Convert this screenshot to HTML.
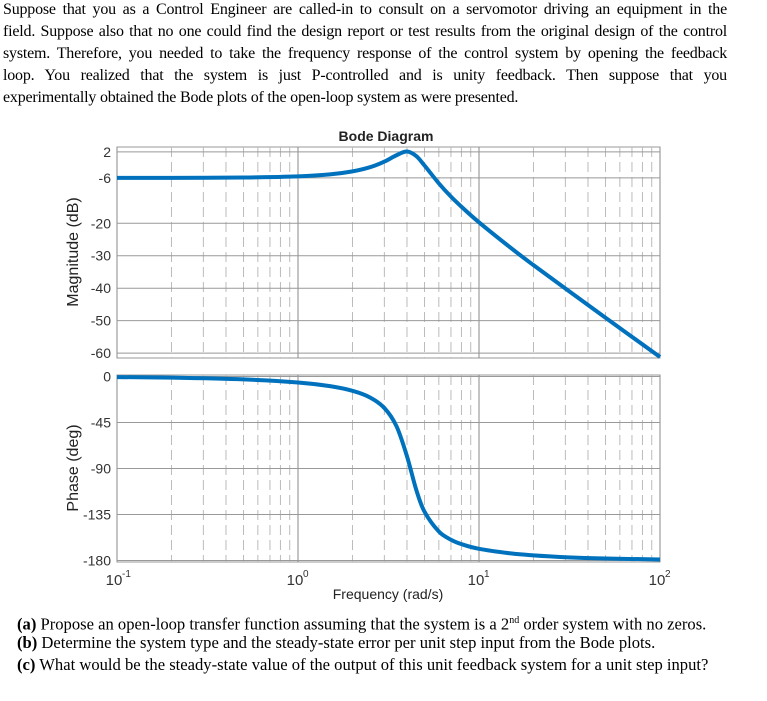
<!DOCTYPE html>
<html><head><meta charset="utf-8">
<style>
body{margin:0;width:767px;height:701px;background:#fff;overflow:hidden;position:relative;font-family:"Liberation Serif",serif;}
.ln{position:absolute;left:3px;width:724px;font-size:16px;line-height:20px;white-space:nowrap;text-align:justify;text-align-last:justify;color:#000;letter-spacing:-0.2px;}
.q{position:absolute;left:17px;font-size:16.6px;line-height:18px;white-space:nowrap;color:#000;}
svg{position:absolute;left:0;top:0;}
</style></head><body>
<div>
<div class="ln" style="top:0px">Suppose that you as a Control Engineer are called-in to consult on a servomotor driving an equipment in the</div>
<div class="ln" style="top:22px">field. Suppose also that no one could find the design report or test results from the original design of the control</div>
<div class="ln" style="top:44px">system. Therefore, you needed to take the frequency response of the control system by opening the feedback</div>
<div class="ln" style="top:66px">loop. You realized that the system is just P-controlled and is unity feedback. Then suppose that you</div>
<div class="ln" style="top:88px;text-align-last:left;width:auto">experimentally obtained the Bode plots of the open-loop system as were presented.</div>
</div>
<svg id="chart" width="767" height="701"></svg>
<div class="q" style="top:612px"><b>(a)</b> Propose an open-loop transfer function assuming that the system is a 2<sup style="font-size:10px">nd</sup> order system with no zeros.</div>
<div class="q" style="top:634px"><b>(b)</b> Determine the system type and the steady-state error per unit step input from the Bode plots.</div>
<div class="q" style="top:656px"><b>(c)</b> What would be the steady-state value of the output of this unit feedback system for a unit step input?</div>
<script>
const freqs=[0.1,0.2,0.5,1,1.5,2,2.5,3,3.5,4,4.5,5,6,7,8,10,15,20,30,50,100];
const magDb=[-6.0,-6.0,-5.9,-5.55,-4.94,-4.0,-2.72,-1.0,0.96,2.1,0.7,-2.2,-7.7,-11.8,-14.9,-19.7,-27.6,-32.9,-40.1,-49.1,-61.2];
const phaseDeg=[-0.55,-1.1,-2.8,-5.8,-9.4,-14,-20.5,-30.8,-48.6,-78,-110.8,-132.3,-151.7,-159.7,-164,-168.6,-173.1,-175,-176.8,-178.1,-179];
const magTicks=[2,-6,-20,-30,-40,-50,-60];
const phaseTicks=[0,-45,-90,-135,-180];
const decades=[-1,0,1,2];

const NS="http://www.w3.org/2000/svg";
const svg=document.getElementById('chart');
const X0=117,X1=660;
const xs=f=>X0+(Math.log10(f)+1)/3*(X1-X0);
const M={top:147,bot:358,vTop:3.5,vBot:-61.5};
const P={top:375,bot:562,vTop:1.5,vBot:-181.5};
const ym=v=>M.top+(M.vTop-v)/(M.vTop-M.vBot)*(M.bot-M.top);
const yp=v=>P.top+(P.vTop-v)/(P.vTop-P.vBot)*(P.bot-P.top);
function el(t,a,p){const e=document.createElementNS(NS,t);for(const k in a)e.setAttribute(k,a[k]);(p||svg).appendChild(e);return e;}
function txt(x,y,s,a){const e=el('text',Object.assign({x:x,y:y,'font-family':'Liberation Sans, sans-serif','font-size':14,fill:'#333'},a||{}));e.textContent=s;return e;}
function axes(B,yf,ticks,name){
  const g=el('g',{});
  
  
  el('rect',{x:X0,y:B.top,width:X1-X0,height:B.bot-B.top,fill:'#fff',stroke:'#999','stroke-width':1},g);
  for(let d=-1;d<2;d++){for(let m=2;m<10;m++){const x=xs(m*Math.pow(10,d));
    const l=el('line',{x1:x,x2:x,y1:B.top,y2:B.bot,stroke:'#bbb','stroke-width':1,'stroke-dasharray':'10,5'},g);
    
    }}
  decades.forEach(d=>{const x=xs(Math.pow(10,d));
    const l=el('line',{x1:x,x2:x,y1:B.top,y2:B.bot,stroke:'#888','stroke-width':1},g);
    
    });
  ticks.forEach(v=>{const y=yf(v);
    const l=el('line',{x1:X0,x2:X1,y1:y,y2:y,stroke:'#999','stroke-width':1},g);
    
    
    const t=txt(X0-6,y+5,String(v),{'text-anchor':'end'});
    
    });
}
function curve(vals,yf,name){
  const pts=freqs.map((f,i)=>[xs(f),yf(vals[i])]);
  let d='M'+pts[0][0]+','+pts[0][1];
  for(let i=0;i<pts.length-1;i++){
    const p0=pts[Math.max(0,i-1)],p1=pts[i],p2=pts[i+1],p3=pts[Math.min(pts.length-1,i+2)];
    const c1=[p1[0]+(p2[0]-p0[0])/6,p1[1]+(p2[1]-p0[1])/6];
    const c2=[p2[0]-(p3[0]-p1[0])/6,p2[1]-(p3[1]-p1[1])/6];
    d+=' C'+c1+' '+c2+' '+p2;
  }
  const p=el('path',{d:d,fill:'none',stroke:'#0072BD','stroke-width':4,'stroke-linejoin':'round'});
  
  
}
axes(M,ym,magTicks,'magnitude');
axes(P,yp,phaseTicks,'phase');
curve(magDb,ym,'magnitude-curve');
curve(phaseDeg,yp,'phase-curve');
decades.forEach(d=>{const x=xs(Math.pow(10,d));
  const t=txt(x-3,585,'10',{'text-anchor':'middle','font-size':15});
  
  
  const s=txt(x+5,577,String(d),{'font-size':10});
  
  });
let t=txt(386,141,'Bode Diagram',{'text-anchor':'middle','font-weight':'bold',fill:'#222','font-size':14});


t=txt(388,599,'Frequency  (rad/s)',{'text-anchor':'middle',fill:'#222','font-size':14});


t=txt(0,0,'Magnitude (dB)',{'text-anchor':'middle',fill:'#222','font-size':16,transform:'translate(78,252) rotate(-90)'});


t=txt(0,0,'Phase (deg)',{'text-anchor':'middle',fill:'#222','font-size':16,transform:'translate(78,468) rotate(-90)'});


</script>
</body></html>
